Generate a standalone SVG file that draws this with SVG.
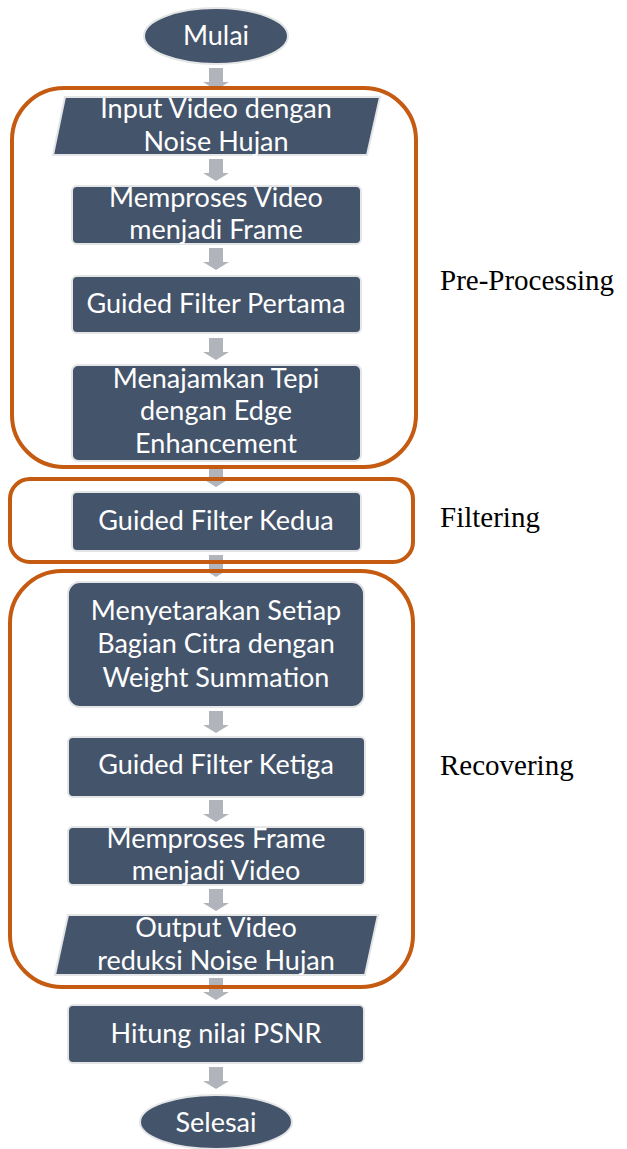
<svg xmlns="http://www.w3.org/2000/svg" width="627" height="1149" viewBox="0 0 627 1149">
<style>
.n{fill:#44546a;stroke:#e4e5e7;stroke-width:2}
.t{font-family:Lato,"Open Sans",sans-serif;font-size:27px;fill:#ffffff;text-anchor:middle}
.g{fill:none;stroke:#c55a11;stroke-width:4}
.l{font-family:"Liberation Serif","Times New Roman",serif;font-size:29px;fill:#000000}
.a{fill:#b1b4ba}
</style>
<defs>
<path id="arr" d="M-7,0 H7 V14 H13 L0,22 L-13,14 H-7 Z"/>
</defs>
<rect width="627" height="1149" fill="#ffffff"/>
<g id="connectors">
<use href="#arr" class="a" x="216" y="68"/>
<use href="#arr" class="a" x="216" y="159"/>
<use href="#arr" class="a" x="216" y="248"/>
<use href="#arr" class="a" x="216" y="338"/>
<use href="#arr" class="a" x="216" y="465"/>
<use href="#arr" class="a" x="216" y="555"/>
<use href="#arr" class="a" x="216" y="711"/>
<use href="#arr" class="a" x="216" y="800"/>
<use href="#arr" class="a" x="216" y="889"/>
<use href="#arr" class="a" x="216" y="978"/>
<use href="#arr" class="a" x="216" y="1067"/>
</g>
<g id="groups">
<rect id="grp-pre" class="g" x="12" y="88" width="404" height="379" rx="52"/>
<rect id="grp-filter" class="g" x="10" y="479" width="403" height="83" rx="20"/>
<rect id="grp-recover" class="g" x="10" y="571" width="403" height="416" rx="52"/>
<text class="l" x="440" y="290">Pre-Processing</text>
<text class="l" x="440" y="527">Filtering</text>
<text class="l" x="440" y="775">Recovering</text>
</g>
<g id="mulai">
<ellipse class="n" cx="216" cy="36" rx="72" ry="28"/>
<text class="t" x="216" y="45">Mulai</text>
</g>
<g id="input">
<polygon class="n" points="65,97 380,97 367,155 53,155"/>
<text class="t" x="216" y="118">Input Video dengan</text>
<text class="t" x="216" y="151">Noise Hujan</text>
</g>
<g id="video-frame">
<rect class="n" x="72" y="186" width="289" height="58" rx="5"/>
<text class="t" x="216" y="207">Memproses Video</text>
<text class="t" x="216" y="239">menjadi Frame</text>
</g>
<g id="gf1">
<rect class="n" x="72" y="276" width="289" height="57" rx="5"/>
<text class="t" x="216" y="313">Guided Filter Pertama</text>
</g>
<g id="edge">
<rect class="n" x="72" y="365" width="289" height="96" rx="6"/>
<text class="t" x="216" y="388">Menajamkan Tepi</text>
<text class="t" x="216" y="420">dengan Edge</text>
<text class="t" x="216" y="453">Enhancement</text>
</g>
<g id="gf2">
<rect class="n" x="72" y="492" width="289" height="59" rx="5"/>
<text class="t" x="216" y="530">Guided Filter Kedua</text>
</g>
<g id="weight">
<rect class="n" x="68" y="582" width="296" height="125" rx="12"/>
<text class="t" x="216" y="620">Menyetarakan Setiap</text>
<text class="t" x="216" y="653">Bagian Citra dengan</text>
<text class="t" x="216" y="687">Weight Summation</text>
</g>
<g id="gf3">
<rect class="n" x="68" y="737" width="297" height="60" rx="5"/>
<text class="t" x="216" y="774">Guided Filter Ketiga</text>
</g>
<g id="frame-video">
<rect class="n" x="68" y="827" width="297" height="58" rx="5"/>
<text class="t" x="216" y="848">Memproses Frame</text>
<text class="t" x="216" y="880">menjadi Video</text>
</g>
<g id="output">
<polygon class="n" points="68,915 378,915 365,975 55,975"/>
<text class="t" x="216" y="937">Output Video</text>
<text class="t" x="216" y="970">reduksi Noise Hujan</text>
</g>
<g id="psnr">
<rect class="n" x="68" y="1005" width="296" height="58" rx="5"/>
<text class="t" x="216" y="1043">Hitung nilai PSNR</text>
</g>
<g id="selesai">
<ellipse class="n" cx="216" cy="1122" rx="76" ry="27"/>
<text class="t" x="216" y="1132">Selesai</text>
</g>
</svg>
